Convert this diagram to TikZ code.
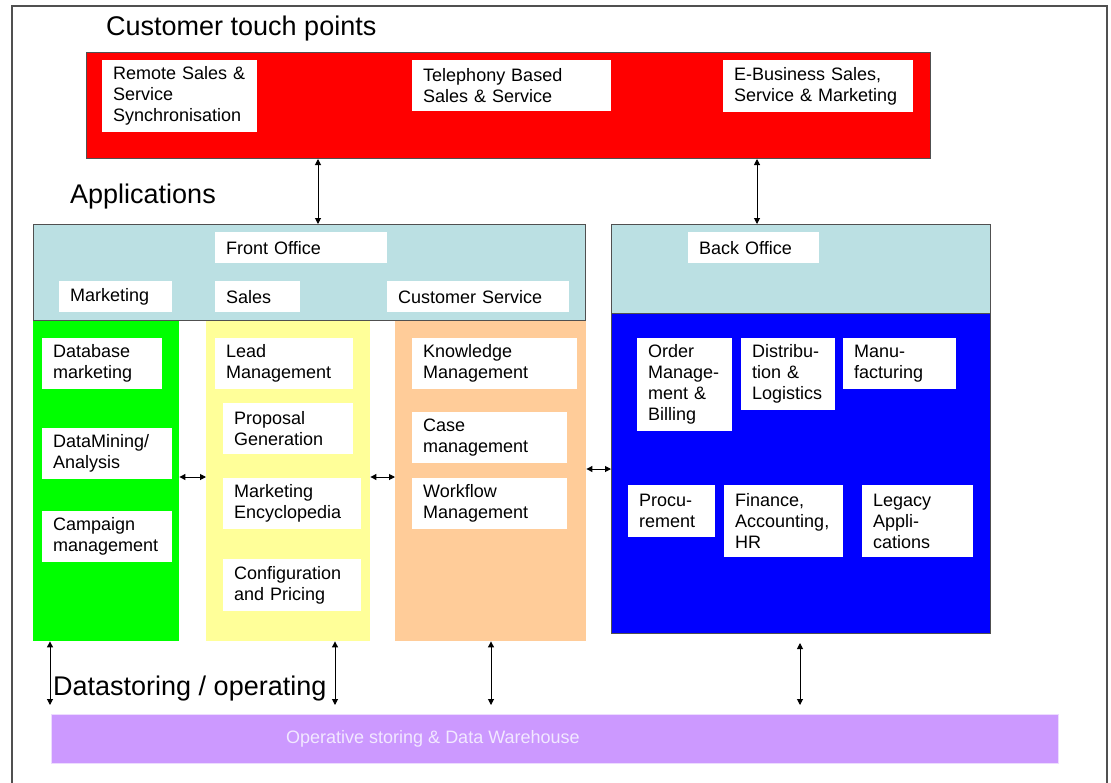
\documentclass[tikz,border=0pt]{standalone}
\usepackage{fontspec}
\setmainfont{Liberation Sans}
\usetikzlibrary{arrows.meta}
\definecolor{tpred}{RGB}{255,0,0}
\definecolor{officeblue}{RGB}{187,224,227}
\definecolor{mktgreen}{RGB}{0,255,0}
\definecolor{salesyellow}{RGB}{255,255,153}
\definecolor{csorange}{RGB}{255,204,153}
\definecolor{boblue}{RGB}{0,0,255}
\definecolor{dwpurple}{RGB}{204,153,255}
\definecolor{dwtext}{RGB}{242,232,255}
\definecolor{edge}{RGB}{80,80,80}
\begin{document}
\begin{tikzpicture}[x=1pt, y=-1pt, >={Triangle[length=6pt,width=6pt]},
  blk/.style 2 args={anchor=north west, inner sep=0pt, minimum width=#1, minimum height=#2},
  lbl/.style 2 args={anchor=north west, fill=white, inner xsep=11pt, inner ysep=0pt,
    text width=#1-22, minimum height=#2, align=left, font=\fontsize{18}{21}\selectfont},
  ttl/.style={anchor=base west, inner sep=0pt, font=\fontsize{27}{31}\selectfont}]
\useasboundingbox (0,0) rectangle (1111,782);
\draw[edge, line width=1.5pt] (12,800) -- (12,6) -- (1107,6) -- (1107,800);

% customer touch points
\node[ttl] (tptitle) at (106,35) {Customer touch points};
\node[blk={844}{106}, fill=tpred, draw=edge, line width=1pt] (red) at (86,52) {};
\node[lbl={155}{72}] (remote) at (102,60) {Remote Sales \&\\Service\\Synchronisation};
\node[lbl={199}{51}] (tele) at (412,60) {Telephony Based\\Sales \& Service};
\node[lbl={190}{52}] (ebiz) at (723,60) {E-Business Sales,\\Service \& Marketing};

% applications
\node[ttl] (apptitle) at (70,203) {Applications};
\node[blk={146}{321}, fill=mktgreen] (green) at (33,320) {};
\node[blk={164}{321}, fill=salesyellow] (yellow) at (206,320) {};
\node[blk={191}{321}, fill=csorange] (orange) at (395,320) {};
\node[blk={552}{96}, fill=officeblue, draw=edge, line width=1pt] (front) at (33,224) {};
\node[blk={379}{409}, fill=boblue, draw=edge, line width=1pt] (back) at (611,224) {};
\node[blk={379}{89}, fill=officeblue, draw=edge, line width=1pt] (backhead) at (611,224) {};

\node[lbl={172}{31}] (fo) at (215,232) {Front Office};
\node[lbl={113}{31}] (mkt) at (59,281) {Marketing};
\node[lbl={85}{31}] (sales) at (215,281) {Sales};
\node[lbl={182}{31}] (cs) at (387,281) {Customer Service};
\node[lbl={131}{31}] (bo) at (688,232) {Back Office};

\node[lbl={120}{51}] (dbm) at (42,338) {Database\\marketing};
\node[lbl={130}{51}] (dmine) at (42,428) {DataMining/\\Analysis};
\node[lbl={130}{51}] (camp) at (42,511) {Campaign\\management};

\node[lbl={138}{51}] (lead) at (215,338) {Lead\\Management};
\node[lbl={130}{51}] (prop) at (223,403) {Proposal\\Generation};
\node[lbl={138}{51}] (enc) at (223,478) {Marketing\\Encyclopedia};
\node[lbl={138}{52}] (conf) at (223,559) {Configuration\\and Pricing};

\node[lbl={165}{51}] (know) at (412,338) {Knowledge\\Management};
\node[lbl={155}{51}] (case) at (412,412) {Case\\management};
\node[lbl={155}{51}] (work) at (412,478) {Workflow\\Management};

\node[lbl={95}{93}] (order) at (637,338) {Order\\Manage-\\ment \&\\Billing};
\node[lbl={94}{72}] (dist) at (741,338) {Distribu-\\tion \&\\Logistics};
\node[lbl={113}{51}] (manu) at (843,338) {Manu-\\facturing};
\node[lbl={87}{52}] (proc) at (628,485) {Procu-\\rement};
\node[lbl={119}{72}] (fin) at (724,485) {Finance,\\Accounting,\\HR};
\node[lbl={111}{72}] (leg) at (862,485) {Legacy\\Appli-\\cations};

% datastoring
\node[ttl] (dstitle) at (53,695) {Datastoring / operating};
\node[blk={1007}{49}, fill=dwpurple, draw=dwpurple!35!white] (dw) at (51,714) {};
\node[anchor=base west, inner sep=0pt, text=dwtext, font=\fontsize{18}{21}\selectfont] (dwlabel) at (286,743) {Operative storing \& Data Warehouse};

% arrows
\coordinate (a1) at (318,0);
\coordinate (a2) at (757,0);
\coordinate (h1) at (0,477);
\coordinate (h2) at (0,469);
\coordinate (b1) at (50,0);
\coordinate (b2) at (335,0);
\coordinate (b3) at (491,0);
\coordinate (b4) at (800,0);
\draw[<->, line width=1pt] (red.south -| a1) -- (front.north -| a1);
\draw[<->, line width=1pt] (red.south -| a2) -- (back.north -| a2);
\draw[<->, line width=1pt] (green.east |- h1) -- (yellow.west |- h1);
\draw[<->, line width=1pt] (yellow.east |- h1) -- (orange.west |- h1);
\draw[<->, line width=1pt] (orange.east |- h2) -- (back.west |- h2);
\draw[<->, line width=1pt, shorten >=9pt] (green.south -| b1) -- (dw.north -| b1);
\draw[<->, line width=1pt, shorten >=9pt] (yellow.south -| b2) -- (dw.north -| b2);
\draw[<->, line width=1pt, shorten >=9pt] (orange.south -| b3) -- (dw.north -| b3);
\draw[<->, line width=1pt, shorten <=9pt, shorten >=9pt] (back.south -| b4) -- (dw.north -| b4);
\end{tikzpicture}
\end{document}
